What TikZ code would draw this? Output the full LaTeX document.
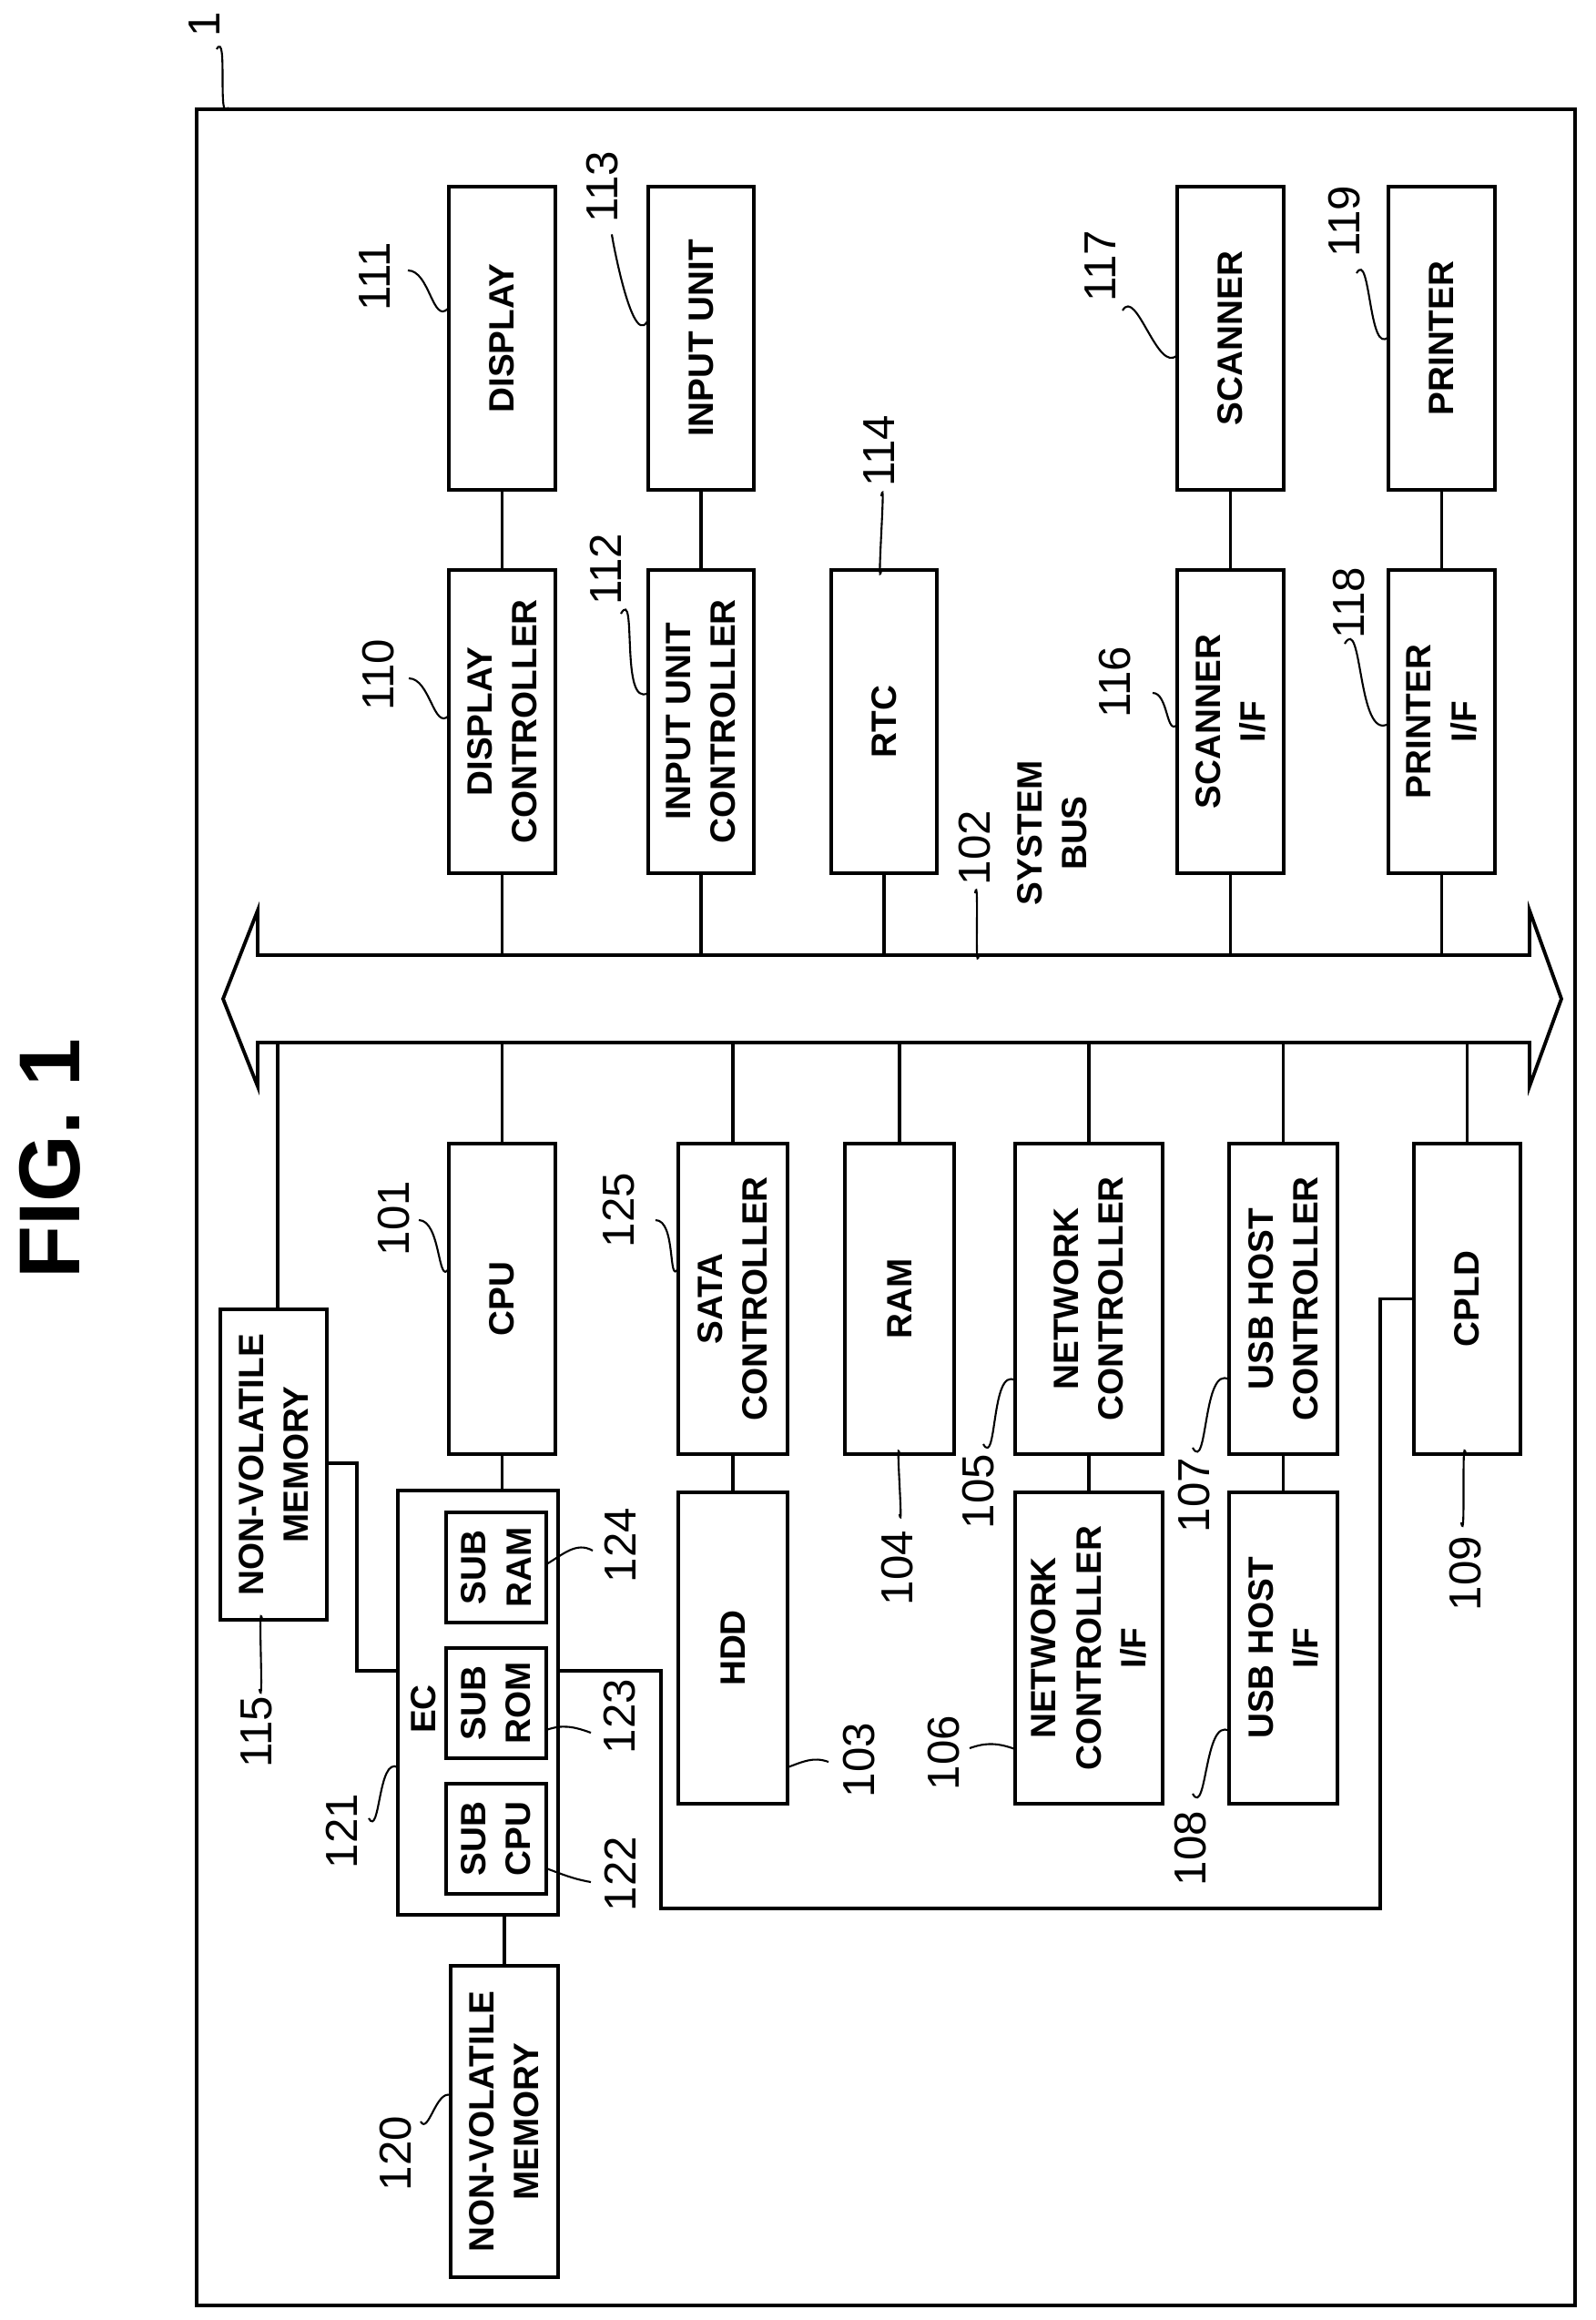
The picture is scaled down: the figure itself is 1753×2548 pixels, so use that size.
\documentclass[tikz,border=0pt]{standalone}
\usepackage{fontspec}
\setmainfont{Liberation Sans}
\usetikzlibrary{calc}

\tikzset{
  blk/.style={draw, line width=1.1pt, rotate=90, align=center, inner sep=1pt,
              font=\fontsize{11}{14}\selectfont\bfseries},
  num/.style={rotate=90, inner sep=0pt, font=\fontsize{14}{16}\selectfont},
  link/.style={line width=0.9pt},
  lead/.style={line width=0.6pt}
}

\begin{document}
\begin{tikzpicture}[x=0.1mm, y=-0.1mm]
\useasboundingbox (0,0) rectangle (1753,2548);

% outer frame of the apparatus
\draw[line width=1.2pt] (216,120) rectangle (1730,2532);
\node[rotate=90, font=\fontsize{27}{30}\selectfont\bfseries] (fig) at (55,1273) {FIG. 1};

% system bus
\coordinate (bt) at (0,1049);
\coordinate (bb) at (0,1145);
\draw[line width=1.1pt] (245,1097) -- (283,1000) -- (283,1049) -- (1680,1049)
  -- (1680,1000) -- (1715,1097) -- (1680,1193) -- (1680,1145) -- (283,1145)
  -- (283,1193) -- cycle;
\node[num] (l102) at (1071,931) {102};
\node[num, align=center, font=\fontsize{11}{14}\selectfont\bfseries] (sysbus) at (1156,915) {SYSTEM\\BUS};

% upper row
\node[blk, minimum width=33.3mm, minimum height=11.7mm] (disp) at (551.5,371.5) {DISPLAY};
\node[blk, minimum width=33.3mm, minimum height=11.6mm] (inp)  at (770,371.5)   {INPUT UNIT};
\node[blk, minimum width=33.3mm, minimum height=11.7mm] (scan) at (1351.5,371.5) {SCANNER};
\node[blk, minimum width=33.3mm, minimum height=11.7mm] (prn)  at (1583.5,371.5) {PRINTER};

% controllers above the bus
\node[blk, minimum width=33.3mm, minimum height=11.7mm] (dctl) at (551.5,792.5) {DISPLAY\\CONTROLLER};
\node[blk, minimum width=33.3mm, minimum height=11.6mm] (ictl) at (770,792.5)   {INPUT UNIT\\CONTROLLER};
\node[blk, minimum width=33.3mm, minimum height=11.6mm] (rtc)  at (971,792.5)   {RTC};
\node[blk, minimum width=33.3mm, minimum height=11.7mm] (sif)  at (1351.5,792.5) {SCANNER\\I/F};
\node[blk, minimum width=33.3mm, minimum height=11.7mm] (pif)  at (1583.5,792.5) {PRINTER\\I/F};

% blocks below the bus
\node[blk, minimum width=34.1mm, minimum height=11.7mm] (nv1)  at (300.5,1608.5) {NON-VOLATILE\\MEMORY};
\node[blk, minimum width=34.1mm, minimum height=11.7mm] (cpu)  at (551.5,1426.5) {CPU};
\node[blk, minimum width=34.1mm, minimum height=12mm]   (sata) at (805,1426.5)   {SATA\\CONTROLLER};
\node[blk, minimum width=34.1mm, minimum height=12mm]   (ram)  at (988,1426.5)   {RAM};
\node[blk, minimum width=34.1mm, minimum height=16.2mm] (net)  at (1196,1426.5)  {NETWORK\\CONTROLLER};
\node[blk, minimum width=34.1mm, minimum height=11.9mm] (usbc) at (1409.5,1426.5) {USB HOST\\CONTROLLER};
\node[blk, minimum width=34.1mm, minimum height=11.7mm] (cpld) at (1611.5,1426.5) {CPLD};

\node[blk, minimum width=34.2mm, minimum height=12mm]   (hdd)   at (805,1810)    {HDD};
\node[blk, minimum width=34.2mm, minimum height=16.2mm] (netif) at (1196,1810)   {NETWORK\\CONTROLLER\\I/F};
\node[blk, minimum width=34.2mm, minimum height=11.9mm] (usbif) at (1409.5,1810) {USB HOST\\I/F};

% embedded controller
\node[blk, minimum width=46.6mm, minimum height=17.6mm] (ec) at (525,1870) {};
\node[blk, draw=none] (eclab) at (465,1877) {EC};
\node[blk, minimum width=12.1mm, minimum height=11mm] (sram) at (545,1721.5) {SUB\\RAM};
\node[blk, minimum width=12.1mm, minimum height=11mm] (srom) at (545,1870.5) {SUB\\ROM};
\node[blk, minimum width=12.1mm, minimum height=11mm] (scpu) at (545,2019.5) {SUB\\CPU};
\node[blk, minimum width=34.2mm, minimum height=11.8mm] (nv2) at (554,2330) {NON-VOLATILE\\MEMORY};
\coordinate (ecl) at (437,1835);
\coordinate (ecr) at (613,1835);

% connections
\draw[link] (disp.west) -- (dctl.east);
\draw[link] (inp.west) -- (ictl.east);
\draw[link] (scan.west) -- (sif.east);
\draw[link] (prn.west) -- (pif.east);
\foreach \n in {dctl,ictl,rtc,sif,pif}
  \draw[link] (\n.west) -- (\n.west |- bt);
\foreach \n in {cpu,sata,ram,net,usbc,cpld}
  \draw[link] (\n.east) -- (\n.east |- bb);
\draw[link] (305,1438) -- (305,1145);
\draw[link] (cpu.west) -- (cpu.west |- ec.east);
\draw[link] (sata.west) -- (hdd.east);
\draw[link] (net.west) -- (netif.east);
\draw[link] (usbc.west) -- (usbif.east);
\draw[link] (nv2.east) -- (nv2.east |- ec.west);
\draw[link] (359,1607) -| (392,1835) -- (ecl);
\draw[link] (cpld.north) -| (1516,2096) -| (726,1835) -- (ecr);

% reference numerals
\node[num] (l1)   at (225,27)    {1};
\node[num] (l111) at (412,304)   {111};
\node[num] (l113) at (662,205)   {113};
\node[num] (l110) at (416,741)   {110};
\node[num] (l112) at (665,625)   {112};
\node[num] (l114) at (966,495)   {114};
\node[num] (l116) at (1225,749)  {116};
\node[num] (l117) at (1209,292)  {117};
\node[num] (l118) at (1482,662)  {118};
\node[num] (l119) at (1477,243)  {119};
\node[num] (l101) at (433,1338)  {101};
\node[num] (l125) at (680,1329)  {125};
\node[num] (l104) at (986,1722)  {104};
\node[num] (l105) at (1075,1638) {105};
\node[num] (l107) at (1312,1642) {107};
\node[num] (l109) at (1610,1728) {109};
\node[num] (l106) at (1037,1925) {106};
\node[num] (l108) at (1308,2030) {108};
\node[num] (l103) at (944,1933)  {103};
\node[num] (l124) at (681,1697)  {124};
\node[num] (l123) at (681,1885)  {123};
\node[num] (l122) at (681,2058)  {122};
\node[num] (l121) at (375,2011)  {121};
\node[num] (l115) at (282,1902)  {115};
\node[num] (l120) at (435,2365)  {120};

% leaders
\draw[lead] (238,54) to[out=60,in=-120] (251,118);
\draw[lead] (448,297) to[out=0,in=-135] (492,339);
\draw[lead] (673,263) to[out=100,in=-120] (711,353);
\draw[lead] (449,745) to[out=0,in=-135] (493,786);
\draw[lead] (682,674) to[out=60,in=-150] (712,761);
\draw[lead] (968,545) to[out=80,in=-100] (968,626);
\draw[lead] (1266,761) to[out=0,in=-135] (1293,796);
\draw[lead] (1233,341) to[out=60,in=-135] (1293,390);
\draw[lead] (1477,707) to[out=60,in=-150] (1525,795);
\draw[lead] (1490,300) to[out=60,in=-135] (1525,370);
\draw[lead] (1071,981) to[out=80,in=-100] (1075,1049);
\draw[lead] (460,1340) to[out=0,in=-120] (493,1393);
\draw[lead] (720,1340) to[out=0,in=-120] (745,1393);
\draw[lead] (988,1663) to[out=-80,in=100] (988,1597);
\draw[lead] (1080,1586) to[out=-60,in=150] (1115,1516);
\draw[lead] (1310,1590) to[out=-60,in=150] (1350,1515);
\draw[lead] (1605,1672) to[out=-80,in=100] (1610,1597);
\draw[lead] (1065,1920) to[out=20,in=160] (1115,1921);
\draw[lead] (1310,1970) to[out=-60,in=150] (1350,1901);
\draw[lead] (910,1935) to[out=160,in=20] (865,1941);
\draw[lead] (651,1703) to[out=150,in=30] (600,1718);
\draw[lead] (649,1903) to[out=160,in=20] (600,1900);
\draw[lead] (649,2067) to[out=170,in=-20] (600,2052);
\draw[lead] (405,1997) to[out=-60,in=150] (437,1941);
\draw[lead] (285,1855) to[out=-80,in=100] (288,1779);
\draw[lead] (462,2330) to[out=-60,in=160] (495,2301);
\end{tikzpicture}
\end{document}
